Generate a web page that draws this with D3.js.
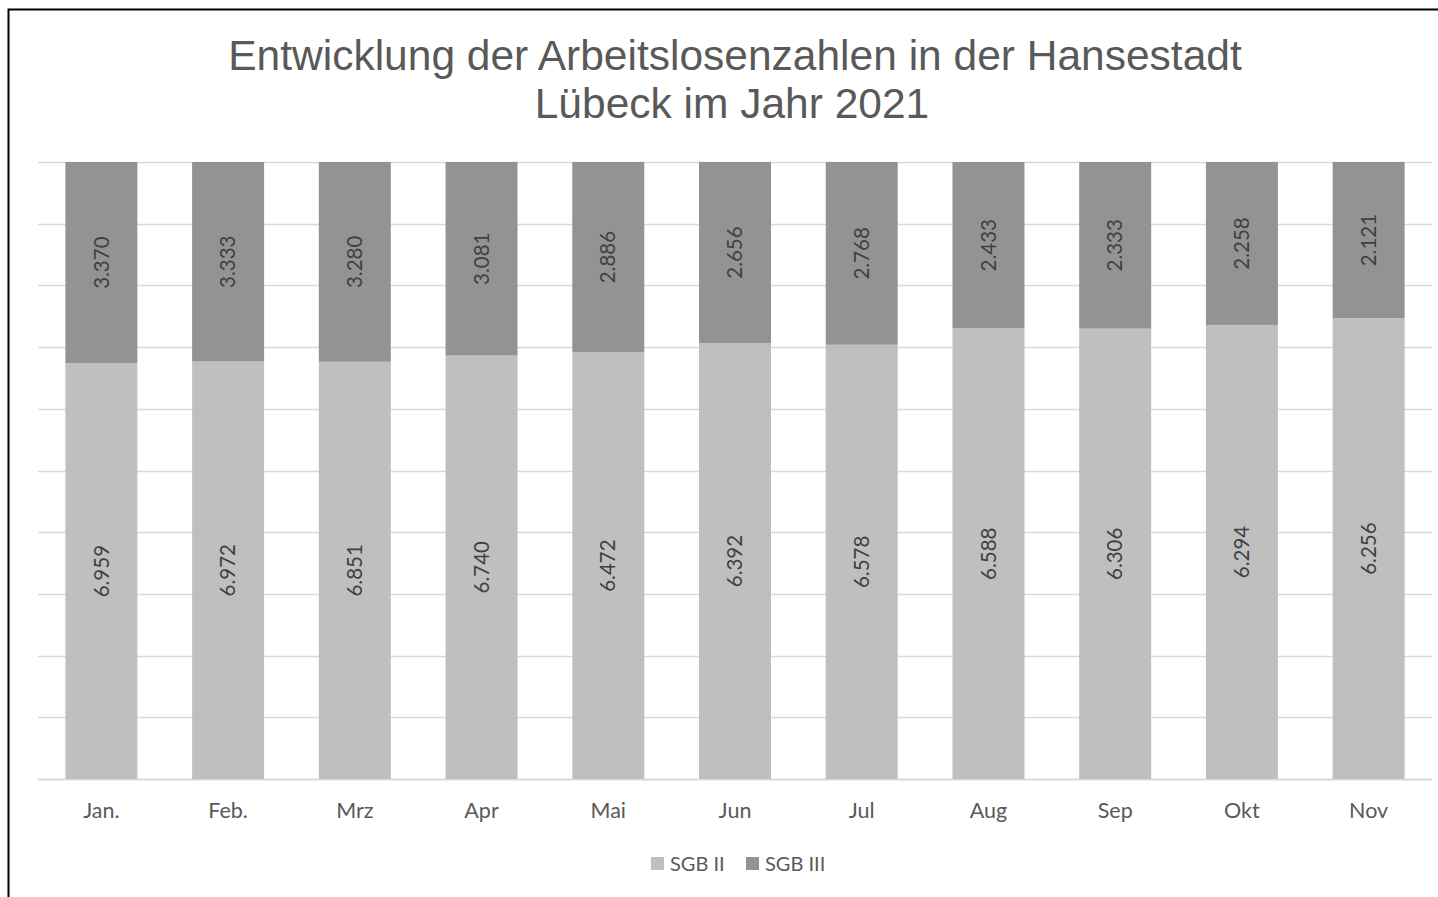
<!DOCTYPE html>
<html>
<head>
<meta charset="utf-8">
<script src="https://cdn.jsdelivr.net/npm/d3@7"></script>
<style>
  body { margin: 0; background: #fff; }
  svg { display: block; }
</style>
</head>
<body>
<div id="chart"></div>
<script>
// chart data
const months = ["Jan.", "Feb.", "Mrz", "Apr", "Mai", "Jun", "Jul", "Aug", "Sep", "Okt", "Nov"];
const sgb2 = [6959, 6972, 6851, 6740, 6472, 6392, 6578, 6588, 6306, 6294, 6256];
const sgb3 = [3370, 3333, 3280, 3081, 2886, 2656, 2768, 2433, 2333, 2258, 2121];
const seriesNames = ["SGB II", "SGB III"];
const colors = ["#bfbfbf", "#939393"];

const width = 1438, height = 897;
const plot = {left: 38, right: 1432, top: 162, bottom: 779};

const svg = d3.select("#chart")
    .append("svg")
    .attr("width", width)
    .attr("height", height);

// outer frame (runs off the right and bottom edge)
svg.append("rect")
    .attr("x", 8.5).attr("y", 9.5)
    .attr("width", 1460).attr("height", 920)
    .attr("fill", "#fff")
    .attr("stroke", "#000")
    .attr("stroke-width", 2);

// title
const title = svg.append("text")
    .attr("text-anchor", "middle")
    .attr("font-family", "'Liberation Sans', Arial, sans-serif")
    .attr("font-size", "42.5px")
    .attr("fill", "#595959");
title.append("tspan").attr("x", 735).attr("y", 70)
    .text("Entwicklung der Arbeitslosenzahlen in der Hansestadt");
title.append("tspan").attr("x", 732).attr("y", 118)
    .text("Lübeck im Jahr 2021");

const rows = months.map((m, i) => ({month: m, "SGB II": sgb2[i], "SGB III": sgb3[i]}));

const stacked = d3.stack()
    .keys(seriesNames)
    .offset(d3.stackOffsetExpand)(rows);

const x = d3.scaleBand()
    .domain(months)
    .range([plot.left, plot.right])
    .paddingInner(0.432)
    .paddingOuter(0.216);

const y = d3.scaleLinear()
    .domain([0, 1])
    .range([plot.bottom, plot.top]);

// gridlines
svg.append("g")
    .selectAll("line")
    .data(y.ticks(10))
    .join("line")
    .attr("x1", plot.left).attr("x2", plot.right)
    .attr("y1", d => Math.round(y(d)) + 0.5)
    .attr("y2", d => Math.round(y(d)) + 0.5)
    .attr("stroke", "#d9d9d9")
    .attr("stroke-width", d => d === 0 ? 2 : 1.5);

// bars
const layers = svg.append("g")
    .selectAll("g")
    .data(stacked)
    .join("g")
    .attr("fill", (d, i) => colors[i]);

layers.selectAll("rect")
    .data(d => d)
    .join("rect")
    .attr("x", d => x(d.data.month))
    .attr("width", x.bandwidth())
    .attr("y", d => y(d[1]))
    .attr("height", d => y(d[0]) - y(d[1]));

// value labels, rotated
const fmt = d3.formatLocale({decimal: ",", thousands: ".", grouping: [3], currency: ["", "€"]}).format(",");
layers.selectAll("text")
    .data((d) => d.map(p => ({p: p, key: d.key})))
    .join("text")
    .attr("transform", d => {
        const cx = x(d.p.data.month) + x.bandwidth() / 2;
        const cy = (y(d.p[0]) + y(d.p[1])) / 2;
        return `translate(${cx},${cy}) rotate(-90)`;
    })
    .attr("text-anchor", "middle")
    .attr("dy", "0.35em")
    .attr("font-family", "Lato, 'Open Sans', sans-serif")
    .attr("font-size", "20.5px")
    .attr("fill", "#404040")
    .text(d => fmt(d.p.data[d.key]));

// x axis labels
const xAxis = svg.append("g")
    .attr("transform", `translate(0,${plot.bottom})`)
    .call(d3.axisBottom(x).tickSize(0).tickPadding(24));
xAxis.select(".domain").remove();
xAxis.selectAll("text")
    .attr("font-family", "Lato, 'Open Sans', sans-serif")
    .attr("font-size", "21.5px")
    .attr("fill", "#595959");

// legend
const legend = svg.append("g")
    .selectAll("g")
    .data(seriesNames)
    .join("g")
    .attr("transform", (d, i) => `translate(${i === 0 ? 651 : 746},857)`);
legend.append("rect")
    .attr("width", 13).attr("height", 13)
    .attr("fill", (d, i) => colors[i]);
legend.append("text")
    .attr("x", 19).attr("y", 14)
    .attr("font-family", "Lato, 'Open Sans', sans-serif")
    .attr("font-size", "20px")
    .attr("fill", "#595959")
    .text(d => d);
</script>
</body>
</html>
